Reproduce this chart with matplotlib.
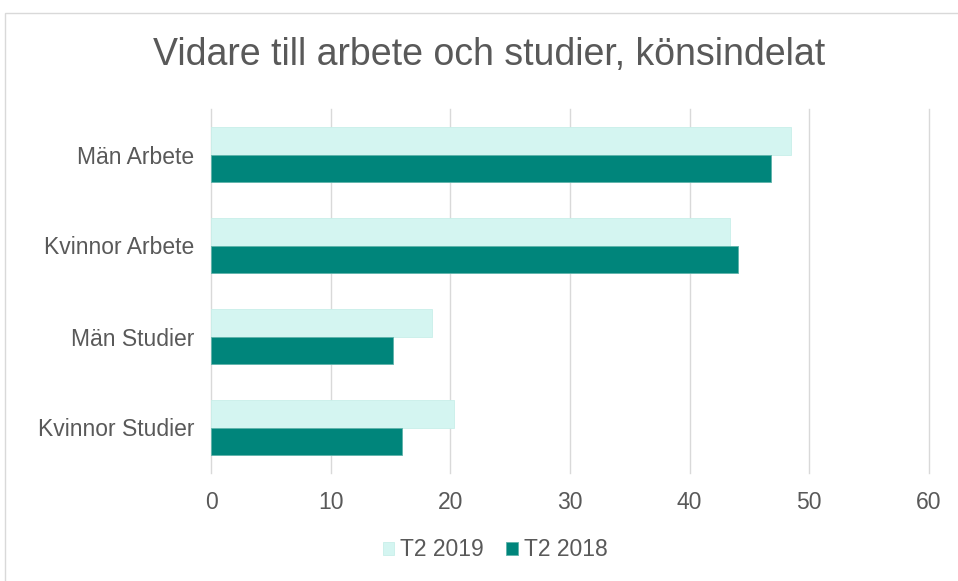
import matplotlib.pyplot as plt
import numpy as np
from matplotlib.patches import Rectangle

# data
categories = ['Män Arbete', 'Kvinnor Arbete', 'Män Studier', 'Kvinnor Studier']
t2_2019 = [48.5, 43.4, 18.5, 20.3]
t2_2018 = [46.8, 44.0, 15.2, 16.0]
x_ticks = [0, 10, 20, 30, 40, 50, 60]

plt.rcParams['font.family'] = ['Liberation Sans', 'DejaVu Sans']
text_col = '#595959'

fig = plt.figure(figsize=(9.58, 5.81), dpi=100)
ax = fig.add_axes([211 / 958, 1 - 473 / 581, (929 - 211) / 958, (473 - 109) / 581])

# outer chart border
fig.patches.append(Rectangle((5 / 958, -0.01), 1.0, 1 - 13 / 581 + 0.01,
                             transform=fig.transFigure, fill=False,
                             edgecolor='#d9d9d9', linewidth=1))

y = np.arange(len(categories))
h = 0.3
ax.barh(y - h / 2, t2_2019, height=h, color='#d4f5f1', edgecolor='#c8efe9',
        linewidth=0.6, label='T2 2019', zorder=3)
ax.barh(y + h / 2, t2_2018, height=h, color='#00857b', edgecolor='#5fb3ab',
        linewidth=0.6, label='T2 2018', zorder=3)

ax.set_ylim(len(categories) - 0.5, -0.5)
ax.set_yticks(y)
ax.set_yticklabels(categories)
ax.set_xlim(0, 60)
ax.set_xticks(x_ticks)
ax.grid(axis='x', color='#d9d9d9', linewidth=1, zorder=0)
for gl in ax.get_xgridlines():
    gl.set_clip_on(False)
for s in ax.spines.values():
    s.set_visible(False)
ax.tick_params(length=0, labelsize=16.5, colors=text_col)
ax.tick_params(axis='y', pad=12)
ax.tick_params(axis='x', pad=13)

fig.text(489 / 958, 1 - 55 / 581, 'Vidare till arbete och studier, könsindelat',
         ha='center', va='center', fontsize=27, color=text_col)

handles, labels = ax.get_legend_handles_labels()
fig.legend(handles, labels, loc='center', bbox_to_anchor=(495 / 958, 1 - 550 / 581),
           ncol=2, frameon=False, fontsize=16.5, labelcolor=text_col,
           handlelength=0.5, handleheight=0.5, handletextpad=0.25, columnspacing=1.0)

fig.savefig('out.png', dpi=100)
